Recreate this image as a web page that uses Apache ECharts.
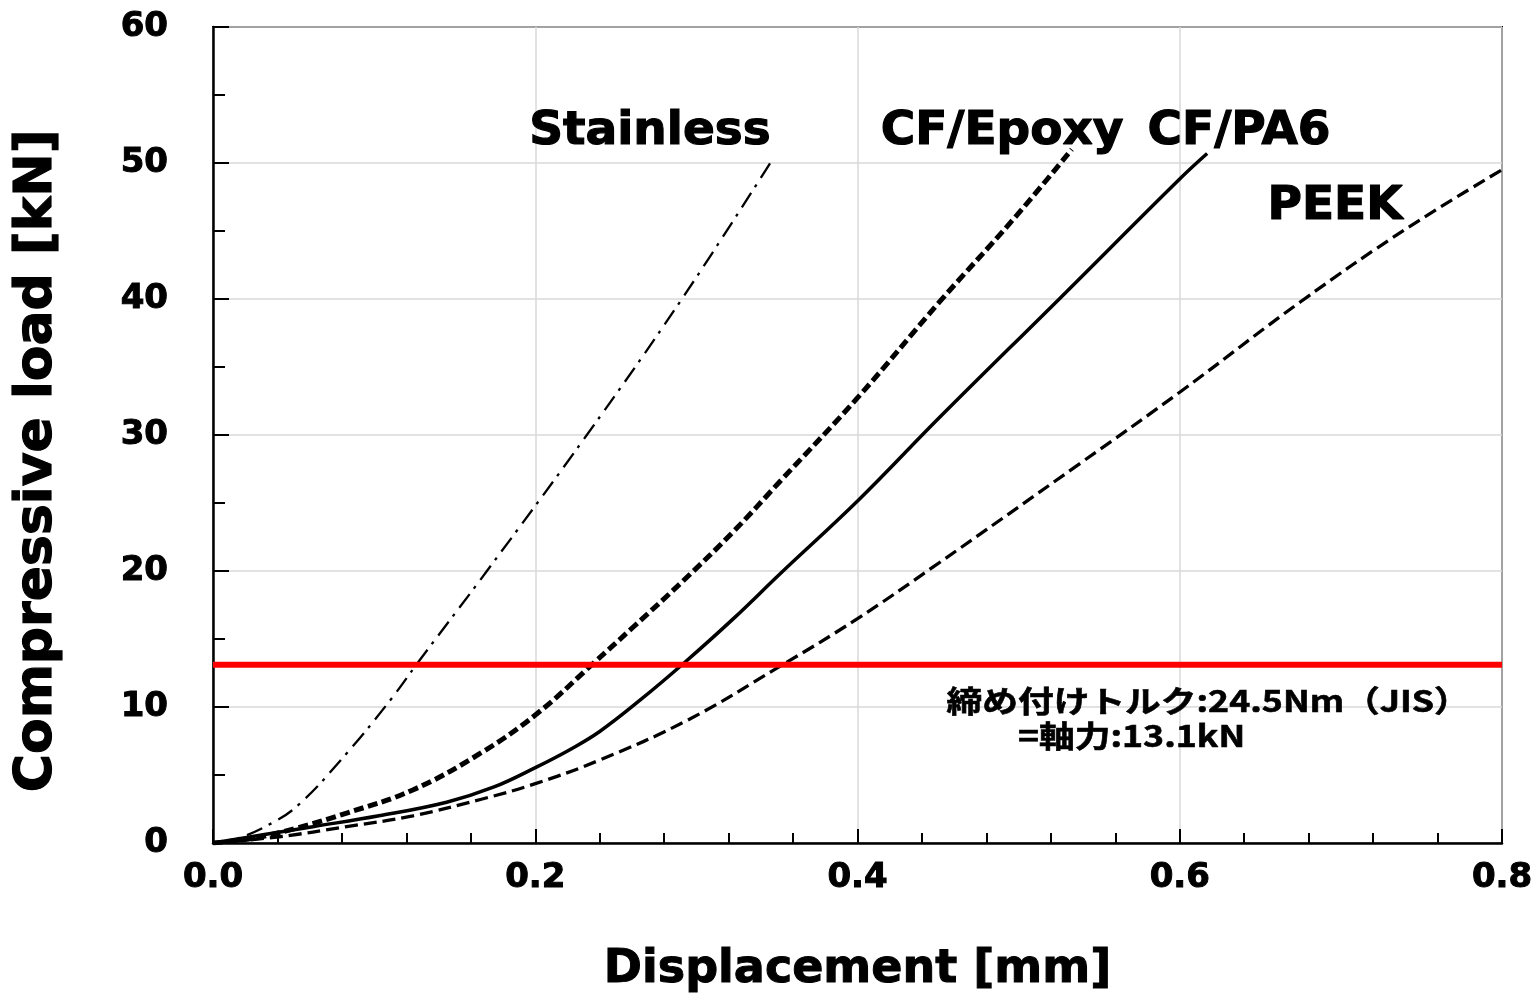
<!DOCTYPE html>
<html><head><meta charset="utf-8">
<script src="https://cdn.jsdelivr.net/npm/echarts@6/dist/echarts.min.js"></script>
<style>html,body{margin:0;padding:0;background:#fff}#c{width:1538px;height:993px}</style>
</head><body><div id="c"></div>
<script>
// ---- data (displacement [mm], load [kN]) ----
const seriesNames = ['Stainless', 'CF/Epoxy', 'CF/PA6', 'PEEK'];
const stainless = [[0,0],[0.012,0.2],[0.034,1.3],[0.053,2.8],[0.083,6.6],[0.110,10.5],[0.128,13.4],[0.170,20.0],[0.232,30.0],[0.291,40.0],[0.348,50.4]];
const cfEpoxy = [[0,0],[0.025,0.35],[0.052,1.1],[0.083,2.2],[0.124,3.9],[0.166,6.6],[0.201,9.5],[0.236,13.2],[0.261,15.9],[0.292,19.3],[0.323,22.9],[0.352,26.6],[0.4005,32.8],[0.451,39.8],[0.497,45.9],[0.533,51.0]];
const cfPA6 = [[0,0],[0.031,0.6],[0.062,1.2],[0.103,2.0],[0.145,3.0],[0.174,4.1],[0.201,5.6],[0.222,6.9],[0.240,8.2],[0.265,10.5],[0.292,13.2],[0.323,16.5],[0.352,19.8],[0.4005,25.2],[0.451,31.3],[0.526,40.1],[0.6006,48.9],[0.617,50.7]];
const peek = [[0,0],[0.041,0.46],[0.083,1.2],[0.124,2.0],[0.166,3.2],[0.201,4.4],[0.240,6.1],[0.294,9.0],[0.352,13.0],[0.400,16.5],[0.447,20.3],[0.538,27.9],[0.6006,33.2],[0.675,39.8],[0.741,45.2],[0.800,49.5]];
const torqueLoad = 13.1;
const xRange = [0, 0.8];
const xTickLabels = ['0.0', '0.2', '0.4', '0.6', '0.8'];
const yTickLabels = ['0', '10', '20', '30', '40', '50', '60'];
const noteLines = ['締め付けトルク:24.5Nm（JIS）', '=軸力:13.1kN'];
const axisTitles = ['Displacement [mm]', 'Compressive load [kN]'];

const chart = echarts.init(document.getElementById('c'), null, {renderer: 'canvas'});
const F = '"DejaVu Sans"';
const heavy = {textBorderColor: '#000', textBorderWidth: 1};

const option = {
  animation: false,
  backgroundColor: '#fff',
  grid: {left: 213, right: 36, top: 27, bottom: 150, outerBoundsMode: 'none', containLabel: false,
    show: true, borderColor: '#000', borderWidth: 2, backgroundColor: 'transparent'},
  xAxis: {
    type: 'value', min: 0, max: 0.8, interval: 0.2,
    name: axisTitles[0], nameLocation: 'middle', nameGap: 104,
    nameTextStyle: Object.assign({fontFamily: F, fontWeight: 'bold', fontSize: 46, color: '#000'}, heavy),
    axisLine: {show: true, onZero: false, lineStyle: {color: '#000', width: 2.5}},
    axisTick: {show: true, inside: true, length: 14, lineStyle: {color: '#000', width: 2}},
    minorTick: {show: true, splitNumber: 5, length: 10, lineStyle: {color: '#000', width: 2}},
    splitLine: {show: true, lineStyle: {color: '#d9d9d9', width: 1.5}},
    axisLabel: Object.assign({margin: 18, fontFamily: F, fontWeight: 'bold', fontSize: 34, color: '#000',
      formatter: (v) => xTickLabels[Math.round(v / 0.2)]}, heavy)
  },
  yAxis: {
    type: 'value', min: 0, max: 60, interval: 10,
    axisLine: {show: true, onZero: false, lineStyle: {color: '#000', width: 2.5}},
    axisTick: {show: true, inside: true, length: 16, lineStyle: {color: '#000', width: 2}},
    minorTick: {show: true, splitNumber: 2, length: 12, lineStyle: {color: '#000', width: 2}},
    splitLine: {show: true, lineStyle: {color: '#d9d9d9', width: 1.5}},
    axisLabel: Object.assign({margin: 45, fontFamily: F, fontWeight: 'bold', fontSize: 34, color: '#000',
      formatter: (v) => yTickLabels[Math.round(v / 10)]}, heavy)
  },
  series: [
    {name: seriesNames[0], type: 'line', data: stainless, showSymbol: false, smooth: 0.4,
      lineStyle: {color: '#000', width: 2.3, type: [17, 7, 3, 8]}},
    {name: seriesNames[1], type: 'line', data: cfEpoxy, showSymbol: false, smooth: 0.4,
      lineStyle: {color: '#000', width: 5, type: [10, 4.5]}},
    {name: seriesNames[2], type: 'line', data: cfPA6, showSymbol: false, smooth: 0.4,
      lineStyle: {color: '#000', width: 3.5, type: 'solid'}},
    {name: seriesNames[3], type: 'line', data: peek, showSymbol: false, smooth: 0.4,
      lineStyle: {color: '#000', width: 3.3, type: [13, 6]}},
    {name: 'torque', type: 'line', data: [[xRange[0], torqueLoad], [xRange[1], torqueLoad]], showSymbol: false, z: 5,
      lineStyle: {color: '#ff0000', width: 6}}
  ]
};
chart.setOption(option);

// label anchor positions in data coordinates
const labelAnchors = [[0.2712, 52.3], [0.4897, 52.3], [0.6368, 52.3], [0.6964, 46.8]];
const noteAnchors = [[0.4553, 10.44], [0.4996, 7.9]];
const graphics = [];
labelAnchors.forEach((a, i) => {
  const p = chart.convertToPixel({gridIndex: 0}, a);
  graphics.push({type: 'text', x: p[0], y: p[1], z: 10,
    style: {text: seriesNames[i], font: 'bold 47px ' + F, fill: '#000', stroke: '#000', lineWidth: 1.2,
      textAlign: 'center', textVerticalAlign: 'middle'}});
});
noteAnchors.forEach((a, i) => {
  const p = chart.convertToPixel({gridIndex: 0}, a);
  graphics.push({type: 'text', x: p[0], y: p[1], z: 10, scaleX: 1.19,
    style: {text: noteLines[i], font: 'bold 30px "Noto Sans CJK JP"', fill: '#000', stroke: '#000', lineWidth: 0.6,
      textAlign: 'left', textVerticalAlign: 'middle'}});
});
const yc = chart.convertToPixel({gridIndex: 0}, [0, 28.1]);
graphics.push({type: 'text', x: 37, y: yc[1], rotation: Math.PI / 2, z: 10,
  style: {text: axisTitles[1], font: 'bold 52px ' + F, fill: '#000', stroke: '#000', lineWidth: 1.2,
    textAlign: 'center', textVerticalAlign: 'middle'}});
chart.setOption({graphic: graphics});
</script>
</body></html>
